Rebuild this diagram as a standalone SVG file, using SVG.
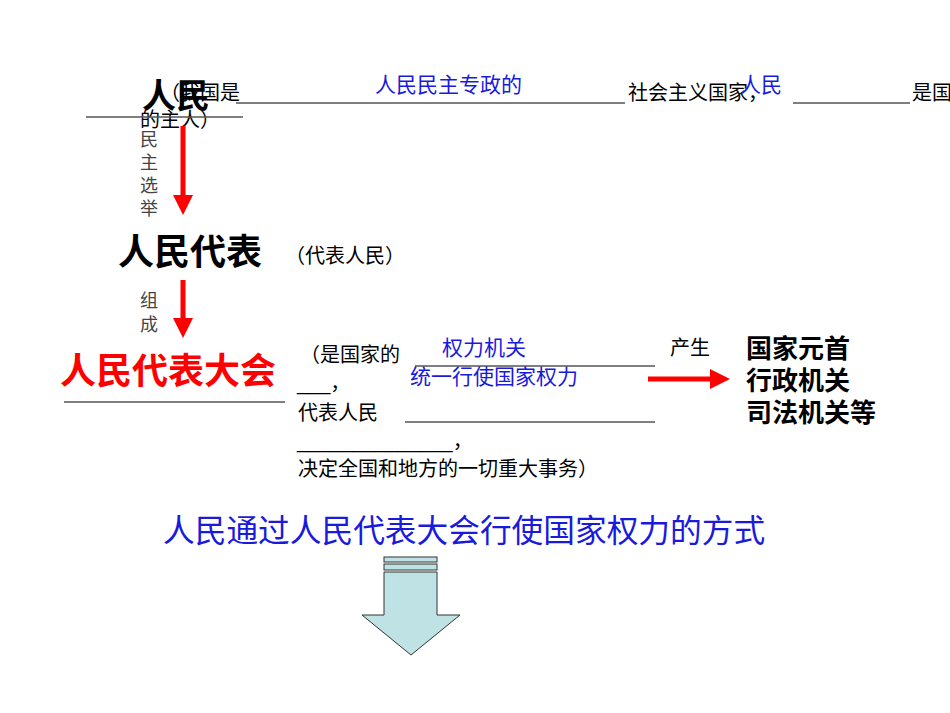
<svg xmlns="http://www.w3.org/2000/svg" width="950" height="713" viewBox="0 0 950 713">
<style>
text{font-family:"Liberation Sans","Noto Sans CJK SC",sans-serif;}
.t{font-size:20px;fill:#000}
.b{fill:#1a1adc;font-size:21px}
.ul{stroke:#555;stroke-width:1.5}
.red{stroke:#f00;stroke-width:5}
</style>
<defs>
<marker id="ah" viewBox="0 0 10 10" refX="5" refY="5" markerWidth="4" markerHeight="4" orient="auto" markerUnits="strokeWidth"><path d="M0,0L10,5L0,10z" fill="#f00"/></marker>
</defs>
<rect width="950" height="713" fill="#fff"/>
<g id="top">
<text class="t" x="160" y="100">（我国是</text>
<line class="ul" x1="236" y1="103" x2="625" y2="103"/>
<text class="t" x="628" y="100">社会主义国家，</text>
<line class="ul" x1="793" y1="103" x2="910" y2="103"/>
<text class="t" x="912" y="100">是国</text>
<text class="t" x="140" y="127">的主人）</text>
<line class="ul" x1="86" y1="117" x2="243" y2="117"/>
<text x="375" y="92" class="b">人民民主专政的</text>
<text x="740" y="92" class="b">人民</text>
</g>
<g id="n1"><text x="142" y="108" font-size="34" font-weight="bold">人民</text></g>
<g id="n2"><text x="118" y="265" font-size="36" font-weight="bold">人民代表</text>
<text class="t" x="285" y="263">（代表人民）</text></g>
<g id="n3"><text x="60" y="384" font-size="36" font-weight="bold" fill="#f00">人民代表大会</text>
<line class="ul" x1="64" y1="402" x2="285" y2="402"/></g>
<g id="desc">
<text class="t" x="300" y="362">（是国家的</text>
<line class="ul" x1="415" y1="366" x2="655" y2="366"/>
<text class="t" x="297" y="390">___，</text>
<text class="t" x="298" y="420">代表人民</text>
<line class="ul" x1="405" y1="422" x2="655" y2="422"/>
<text class="t" x="297" y="448">______________，</text>
<text class="t" x="298" y="476">决定全国和地方的一切重大事务）</text>
<text x="442" y="355" class="b">权力机关</text>
<text x="410" y="384" class="b">统一行使国家权力</text>
<text class="t" x="670" y="355">产生</text>
</g>
<g id="n4" font-size="26" font-weight="bold">
<text x="746" y="358">国家元首</text>
<text x="746" y="390">行政机关</text>
<text x="746" y="422">司法机关等</text>
</g>
<g id="connectors">
<line class="red" x1="183" y1="126" x2="183" y2="205" marker-end="url(#ah)"/>
<line class="red" x1="183" y1="280" x2="183" y2="328" marker-end="url(#ah)"/>
<line class="red" x1="648" y1="379" x2="720" y2="379" marker-end="url(#ah)"/>
<text x="140" y="146" font-size="18" fill="#444">民</text>
<text x="140" y="169" font-size="18" fill="#444">主</text>
<text x="140" y="192" font-size="18" fill="#444">选</text>
<text x="140" y="215" font-size="18" fill="#444">举</text>
<text x="140" y="307" font-size="18" fill="#444">组</text>
<text x="140" y="331" font-size="18" fill="#444">成</text>
</g>
<g id="bottom">
<text x="163" y="542" font-size="31.7" fill="#1a1adc">人民通过人民代表大会行使国家权力的方式</text>
<g fill="#bfe3e5" stroke="#333" stroke-width="1">
<rect x="384" y="557" width="53" height="5"/>
<rect x="384" y="564" width="53" height="6"/>
<path d="M384,572H437V615H460L411,655L362,615H384Z"/>
</g>
</g>
</svg>
